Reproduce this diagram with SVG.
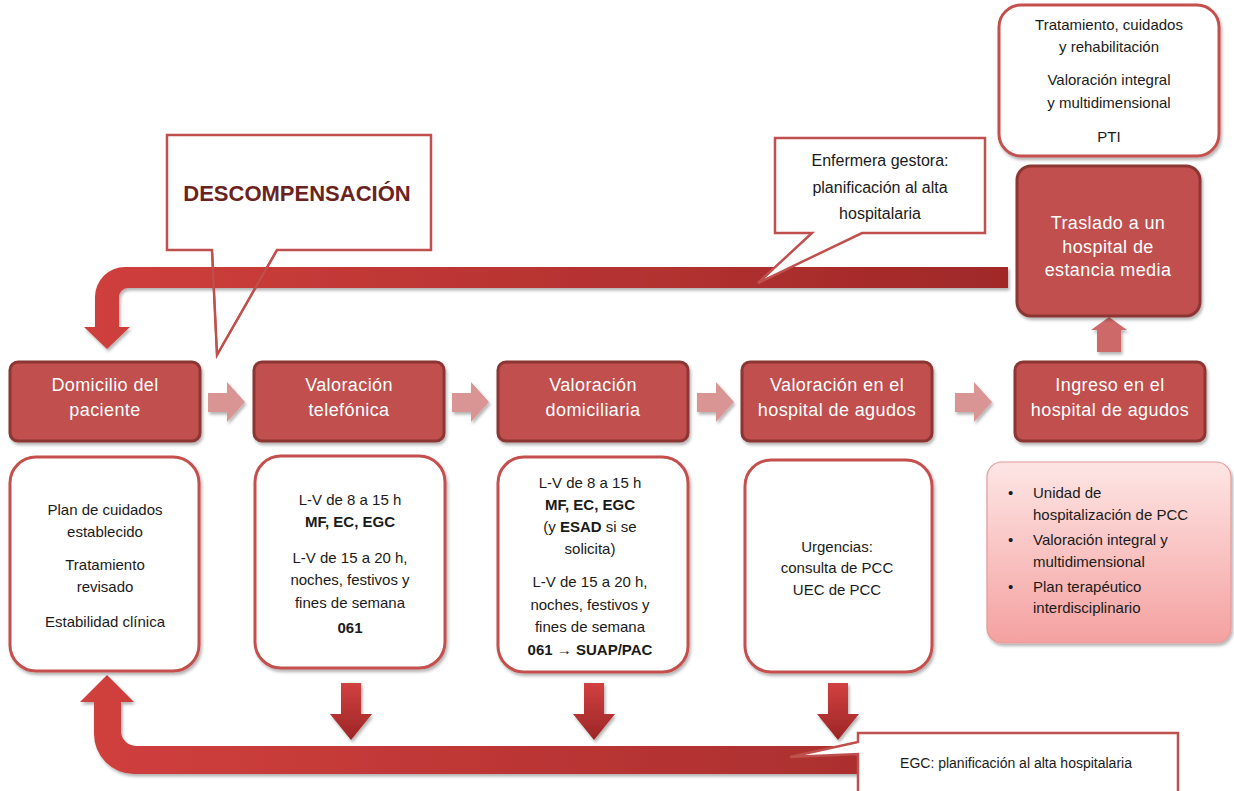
<svg xmlns="http://www.w3.org/2000/svg" width="1234" height="791" viewBox="0 0 1234 791">
<defs>
<style>
text{font-family:"Liberation Sans",Arial,sans-serif;text-anchor:middle;}
.main{fill:#c0504d;stroke:#8c3634;stroke-width:3;}
.mt{fill:#ffffff;font-size:18px;letter-spacing:0.4px;}
.wbox{fill:#ffffff;stroke:#c4504d;stroke-width:3;}
.bt{fill:#1a1a1a;font-size:15px;}
.b{font-weight:bold;}
.call{fill:#ffffff;stroke:#c0504d;stroke-width:2.5;}
.la{fill:#d99594;}
</style>
<linearGradient id="gTop" gradientUnits="userSpaceOnUse" x1="90" y1="0" x2="1010" y2="0">
<stop offset="0" stop-color="#cf3f3c"/><stop offset="1" stop-color="#a02828"/>
</linearGradient>
<linearGradient id="gBot" gradientUnits="userSpaceOnUse" x1="90" y1="0" x2="1090" y2="0">
<stop offset="0" stop-color="#d03f3d"/><stop offset="1" stop-color="#a12a2a"/>
</linearGradient>
<linearGradient id="gDown" x1="0" y1="0" x2="0" y2="1">
<stop offset="0" stop-color="#d24040"/><stop offset="1" stop-color="#9c2626"/>
</linearGradient>
<linearGradient id="gPink" x1="0" y1="0" x2="0" y2="1">
<stop offset="0" stop-color="#fde6e5"/><stop offset="1" stop-color="#f4a1a0"/>
</linearGradient>
<filter id="sh" x="-10%" y="-10%" width="130%" height="130%">
<feDropShadow dx="1.5" dy="2.5" stdDeviation="1.8" flood-color="#000" flood-opacity="0.3"/>
</filter>
</defs>

<!-- DESCOMPENSACION callout (fill beneath band) -->
<g id="callout-descompensacion">
<path class="call" d="M167 135 H431 V250 H277 L217 355 L212 250 H167 Z"/>
<text x="297" y="201" style="font-size:22px;font-weight:bold;fill:#6b2322;">DESCOMPENSACIÓN</text>
</g>

<g id="connectors">
<!-- top return arrow -->
<path filter="url(#sh)" fill="url(#gTop)" d="M1008 267 L125 267 A30 30 0 0 0 95 297 L95 327 L84 327 L107 349 L130 327 L119 327 L119 297 A9 9 0 0 1 128 288 L1008 288 Z"/>
<!-- bottom return arrow -->
<path filter="url(#sh)" fill="url(#gBot)" d="M1085 746 L136 746 A15 15 0 0 1 121 731 L121 702 L134 702 L107 675 L80 702 L94 702 L94 734 A40 40 0 0 0 134 774 L1085 774 Z"/>
<!-- small arrows between main boxes -->
<polygon class="la" filter="url(#sh)" points="208,393 227,393 227,382 245,402 227,422 227,412 208,412"/>
<polygon class="la" filter="url(#sh)" points="452,393 471,393 471,382 489,402 471,422 471,412 452,412"/>
<polygon class="la" filter="url(#sh)" points="697,393 716,393 716,382 734,402 716,422 716,412 697,412"/>
<polygon class="la" filter="url(#sh)" points="955,393 974,393 974,382 992,402 974,422 974,412 955,412"/>
<!-- up arrow -->
<polygon fill="#cd6a69" filter="url(#sh)" points="1097,352 1097,330 1091,330 1109,317 1127,330 1121,330 1121,352"/>
<!-- down arrows -->
<polygon fill="url(#gDown)" filter="url(#sh)" points="341,683 361,683 361,714 372,714 351,740 330,714 341,714"/>
<polygon fill="url(#gDown)" filter="url(#sh)" points="584,683 604,683 604,714 615,714 594,740 573,714 584,714"/>
<polygon fill="url(#gDown)" filter="url(#sh)" points="828,683 848,683 848,714 859,714 838,740 817,714 828,714"/>
</g>

<!-- pointer outline of DESCOMPENSACION over band -->
<path fill="none" stroke="#c0504d" stroke-width="2" d="M277 250 L217 355 L212 250"/>

<g id="callout-enfermera">
<path class="call" d="M775 138 H985 V233 H862 L758 283 L812 233 H775 Z"/>
<text x="880" y="166" class="bt" style="font-size:16px;">Enfermera gestora:</text>
<text x="880" y="193" class="bt" style="font-size:16px;">planificación al alta</text>
<text x="880" y="219" class="bt" style="font-size:16px;">hospitalaria</text>
</g>

<g id="box-tratamiento">
<rect class="wbox" x="999" y="5" width="220" height="151" rx="22" filter="url(#sh)"/>
<text x="1109" y="30" class="bt">Tratamiento, cuidados</text>
<text x="1109" y="52" class="bt">y rehabilitación</text>
<text x="1109" y="85" class="bt">Valoración integral</text>
<text x="1109" y="108" class="bt">y multidimensional</text>
<text x="1109" y="142" class="bt">PTI</text>
</g>

<g id="node-traslado">
<rect class="main" x="1017" y="166" width="183" height="150" rx="14" filter="url(#sh)"/>
<text x="1108" y="229" class="mt">Traslado a un</text>
<text x="1108" y="253" class="mt">hospital de</text>
<text x="1108" y="276" class="mt">estancia media</text>
</g>

<g id="node-domicilio">
<rect class="main" x="10" y="362" width="190" height="79" rx="8" filter="url(#sh)"/>
<text x="105" y="391" class="mt">Domicilio del</text>
<text x="105" y="416" class="mt">paciente</text>
</g>
<g id="node-telefonica">
<rect class="main" x="254" y="362" width="190" height="79" rx="8" filter="url(#sh)"/>
<text x="349" y="391" class="mt">Valoración</text>
<text x="349" y="416" class="mt">telefónica</text>
</g>
<g id="node-domiciliaria">
<rect class="main" x="498" y="362" width="190" height="79" rx="8" filter="url(#sh)"/>
<text x="593" y="391" class="mt">Valoración</text>
<text x="593" y="416" class="mt">domiciliaria</text>
</g>
<g id="node-hospital">
<rect class="main" x="742" y="362" width="190" height="79" rx="8" filter="url(#sh)"/>
<text x="837" y="391" class="mt">Valoración en el</text>
<text x="837" y="416" class="mt">hospital de agudos</text>
</g>
<g id="node-ingreso">
<rect class="main" x="1015" y="362" width="190" height="79" rx="8" filter="url(#sh)"/>
<text x="1110" y="391" class="mt">Ingreso en el</text>
<text x="1110" y="416" class="mt">hospital de agudos</text>
</g>

<g id="box-domicilio">
<rect class="wbox" x="10" y="457" width="189" height="214" rx="26" filter="url(#sh)"/>
<text x="105" y="515" class="bt">Plan de cuidados</text>
<text x="105" y="537" class="bt">establecido</text>
<text x="105" y="570" class="bt">Tratamiento</text>
<text x="105" y="592" class="bt">revisado</text>
<text x="105" y="627" class="bt">Estabilidad clínica</text>
</g>
<g id="box-telefonica">
<rect class="wbox" x="255" y="456" width="190" height="212" rx="26" filter="url(#sh)"/>
<text x="350" y="505" class="bt">L-V de 8 a 15 h</text>
<text x="350" y="527" class="bt b">MF, EC, EGC</text>
<text x="350" y="563" class="bt">L-V de 15 a 20 h,</text>
<text x="350" y="585" class="bt">noches, festivos y</text>
<text x="350" y="608" class="bt">fines de semana</text>
<text x="350" y="633" class="bt b">061</text>
</g>
<g id="box-domiciliaria">
<rect class="wbox" x="498" y="457" width="190" height="215" rx="26" filter="url(#sh)"/>
<text x="590" y="488" class="bt">L-V de 8 a 15 h</text>
<text x="590" y="510" class="bt b">MF, EC, EGC</text>
<text x="590" y="532" class="bt">(y <tspan class="b">ESAD</tspan> si se</text>
<text x="590" y="554" class="bt">solicita)</text>
<text x="590" y="587" class="bt">L-V de 15 a 20 h,</text>
<text x="590" y="610" class="bt">noches, festivos y</text>
<text x="590" y="632" class="bt">fines de semana</text>
<text x="590" y="655" class="bt b">061 → SUAP/PAC</text>
</g>
<g id="box-hospital">
<rect class="wbox" x="745" y="460" width="187" height="212" rx="26" filter="url(#sh)"/>
<text x="837" y="552" class="bt">Urgencias:</text>
<text x="837" y="573" class="bt">consulta de PCC</text>
<text x="837" y="595" class="bt">UEC de PCC</text>
</g>
<g id="box-ingreso">
<rect x="987" y="462" width="244" height="181" rx="15" fill="url(#gPink)" stroke="#e39a99" stroke-width="1.2" filter="url(#sh)"/>
<g class="bt" style="text-anchor:start;">
<text x="1008" y="498" style="text-anchor:start;font-size:15px;">•</text>
<text x="1033" y="498" style="text-anchor:start;font-size:15px;">Unidad de</text>
<text x="1033" y="520" style="text-anchor:start;font-size:15px;">hospitalización de PCC</text>
<text x="1008" y="545" style="text-anchor:start;font-size:15px;">•</text>
<text x="1033" y="545" style="text-anchor:start;font-size:15px;">Valoración integral y</text>
<text x="1033" y="567" style="text-anchor:start;font-size:15px;">multidimensional</text>
<text x="1008" y="592" style="text-anchor:start;font-size:15px;">•</text>
<text x="1033" y="592" style="text-anchor:start;font-size:15px;">Plan terapéutico</text>
<text x="1033" y="613" style="text-anchor:start;font-size:15px;">interdisciplinario</text>
</g>
</g>

<g id="callout-egc">
<path class="call" d="M858 733 H1178 V795 H858 V754 L790 757 L858 742 Z"/>
<text x="1016" y="768" class="bt" style="font-size:14px;">EGC: planificación al alta hospitalaria</text>
</g>
</svg>
